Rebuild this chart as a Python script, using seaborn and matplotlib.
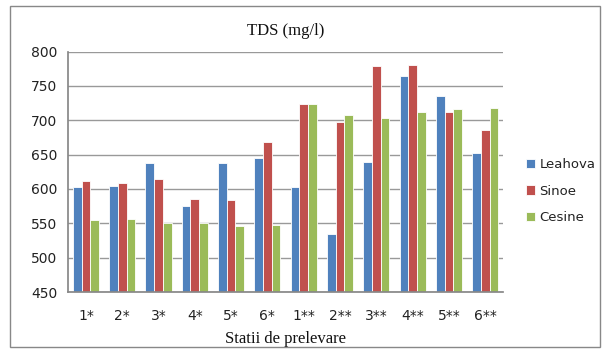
import numpy as np
import pandas as pd
import matplotlib.pyplot as plt
from matplotlib.patches import Rectangle
import seaborn as sns

stations = ["1*", "2*", "3*", "4*", "5*", "6*", "1**", "2**", "3**", "4**", "5**", "6**"]
leahova = [603, 605, 638, 575, 638, 645, 603, 534, 639, 764, 735, 652]
sinoe = [612, 608, 615, 585, 584, 668, 723, 697, 779, 780, 712, 686]
cesine = [555, 557, 551, 551, 546, 548, 723, 708, 704, 712, 717, 718]
series_names = ["Leahova", "Sinoe", "Cesine"]
colors = ["#4F81BD", "#C0504D", "#9BBB59"]

df = pd.DataFrame({
    "Statie": stations * 3,
    "Serie": [s for s in series_names for _ in stations],
    "TDS": leahova + sinoe + cesine,
})

sns.set_theme(style="white")
fig = plt.figure(figsize=(6.05, 3.51), dpi=100)
ax = fig.add_axes([0.112, 0.168, 0.72, 0.685])

fig.patches.append(Rectangle((0.016, 0.012), 0.975, 0.972, transform=fig.transFigure,
                             fill=False, edgecolor="#888888", linewidth=1))

sns.barplot(data=df, x="Statie", y="TDS", hue="Serie", palette=colors,
            width=0.72, ax=ax, edgecolor="white", linewidth=0.6, saturation=1)

ax.set_ylim(450, 800)
ax.set_yticks(np.arange(450, 801, 50))
ax.yaxis.grid(True, color="#999999", linewidth=1)
ax.set_axisbelow(True)
for side in ["top", "right"]:
    ax.spines[side].set_visible(False)
ax.spines["left"].set_color("#888888")
ax.spines["bottom"].set_color("#888888")
ax.set_xlim(-0.5, len(stations) - 0.5)
ax.set_xticks(np.arange(-0.5, len(stations), 1), minor=True)
ax.tick_params(axis="x", which="major", labelsize=10, colors="#222222", length=0, pad=12)
ax.tick_params(axis="x", which="minor", length=5, color="#888888", direction="out")
ax.tick_params(axis="y", labelsize=10, colors="#222222", length=4, color="#888888", direction="out")

ax.set_xlabel("Statii de prelevare", family="Liberation Serif", fontsize=12, color="#111111", labelpad=6)
ax.set_ylabel("")
ax.set_title("TDS (mg/l)", family="Liberation Serif", fontsize=12, color="#111111", pad=12)

leg = ax.legend(loc="center left", bbox_to_anchor=(1.04, 0.42), frameon=False,
                fontsize=9.5, handlelength=0.7, handleheight=0.7, labelspacing=1.0,
                handletextpad=0.3, borderaxespad=0)
for t in leg.get_texts():
    t.set_color("#222222")

fig.savefig("out.png", dpi=100)
